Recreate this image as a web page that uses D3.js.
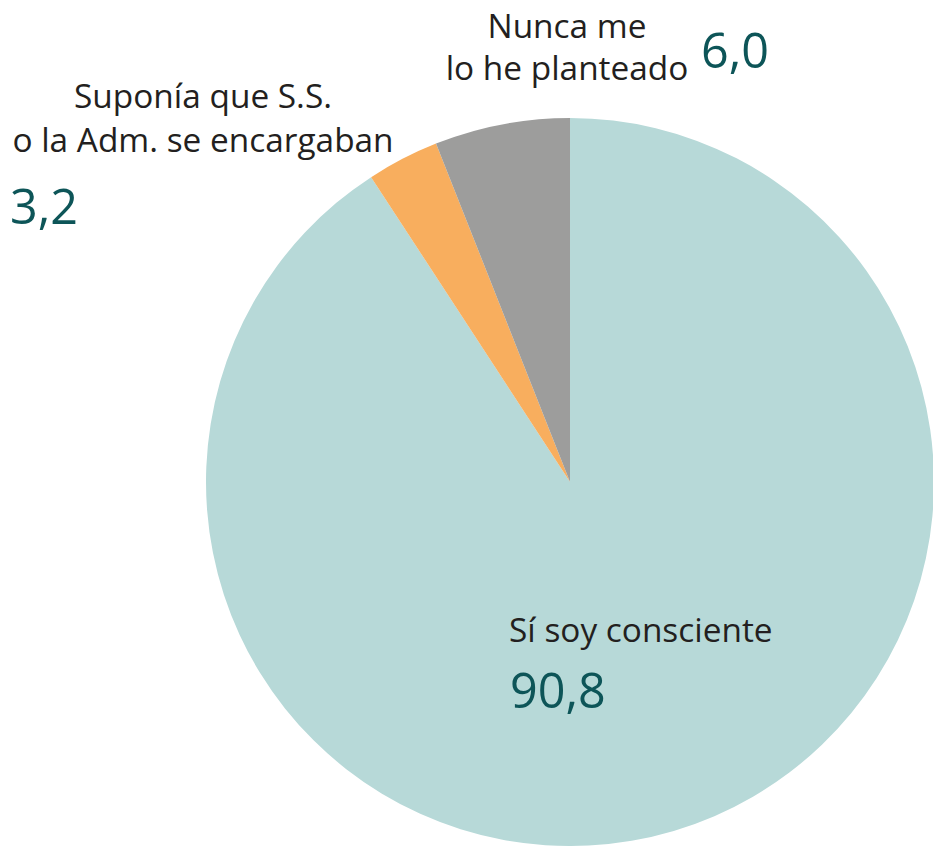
<!DOCTYPE html>
<html>
<head>
<meta charset="utf-8">
<script src="https://cdn.jsdelivr.net/npm/d3@7"></script>
<style>
  html, body { margin: 0; padding: 0; background: #fff; }
  svg { display: block; }
  text { font-family: "Open Sans", "Noto Sans", sans-serif; }
</style>
</head>
<body>
<svg id="chart" width="933" height="846"></svg>
<script>
// Survey answers, in clockwise order from 12 o'clock
const categories = ["Sí soy consciente", "Suponía que S.S. o la Adm. se encargaban", "Nunca me lo he planteado"];
const values = [90.8, 3.2, 6.0];
const valueLabels = ["90,8", "3,2", "6,0"];
const labelLines = [["Sí soy consciente"], ["Suponía que S.S.", "o la Adm. se encargaban"], ["Nunca me", "lo he planteado"]];
const colors = ["#b7d9d8", "#f8ae5e", "#9d9d9c"];

const svg = d3.select("#chart");
const cx = 570, cy = 482, radius = 364;

const pie = d3.pie().sort(null).value(d => d);
const arc = d3.arc().innerRadius(0).outerRadius(radius);
const color = d3.scaleOrdinal().domain(categories).range(colors);

const g = svg.append("g").attr("transform", `translate(${cx},${cy})`);
g.selectAll("path")
  .data(pie(values))
  .join("path")
  .attr("d", arc)
  .attr("fill", (d, i) => color(categories[i]));

const labelColor = "#231f20";
const numColor = "#0d5558";
const labelSize = 33.4;
const numSize = 48.5;

// Label placements: [anchor, x, first baseline, line gap] and value positions
const labelPos = [
  { anchor: "start", x: 509, y: 642, gap: 44, nx: 510, ny: 708, nAnchor: "start" },
  { anchor: "middle", x: 203, y: 108, gap: 44, nx: 10, ny: 224, nAnchor: "start" },
  { anchor: "middle", x: 567, y: 38, gap: 42, nx: 701, ny: 68, nAnchor: "start" }
];

labelLines.forEach((lines, i) => {
  const p = labelPos[i];
  const t = svg.append("text")
    .attr("text-anchor", p.anchor)
    .attr("fill", labelColor)
    .attr("font-size", labelSize);
  lines.forEach((ln, j) => {
    t.append("tspan").attr("x", p.x).attr("y", p.y + j * p.gap).text(ln);
  });
  svg.append("text")
    .attr("x", p.nx).attr("y", p.ny)
    .attr("text-anchor", p.nAnchor)
    .attr("fill", numColor)
    .attr("font-size", numSize)
    .text(valueLabels[i]);
});
</script>
</body>
</html>
